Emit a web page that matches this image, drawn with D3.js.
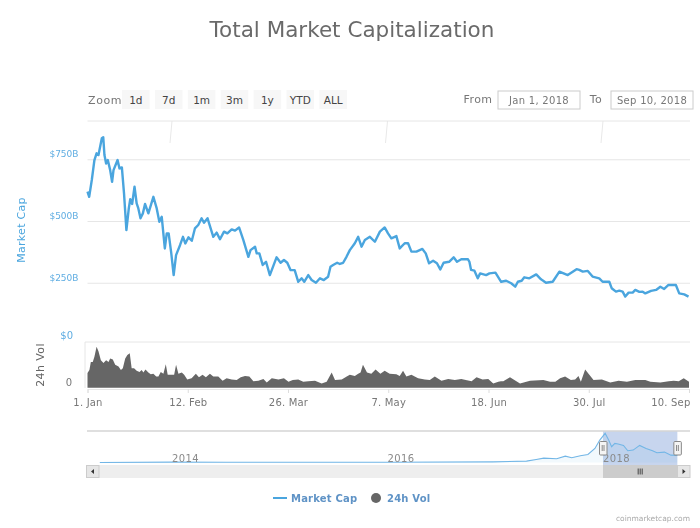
<!DOCTYPE html>
<html>
<head>
<meta charset="utf-8">
<script src="https://cdnjs.cloudflare.com/ajax/libs/d3/7.8.5/d3.min.js"></script>
<style>
  html, body { margin: 0; padding: 0; background: #fff; }
  svg { display: block; filter: blur(0.35px); }
  text { font-family: "DejaVu Sans", sans-serif; }
</style>
</head>
<body>
<svg id="chart"></svg>
<script>
// market cap: days since 1 Jan 2018 / $B
var capDays = [0,0.7,1.8,2.9,3.8,4.6,6,6.6,7.1,7.8,8.5,9.5,10.3,10.9,12.6,13.4,14.4,15.3,16.3,17.3,17.9,18.7,19.7,20.6,21.3,22.2,23.2,24.1,25.5,27.6,29,30.1,31.1,32.4,33.2,34,35.1,36.1,37.1,38.8,40,41,42.3,43.7,45,46.4,47.8,48.8,50.3,51.6,52.7,54.1,55.5,57.2,58.6,60.4,61.8,63.5,65.3,67.4,68.3,70.2,70.9,72,73.4,74.8,76.4,79.2,80.9,82.3,83.7,85.1,86.8,88.3,89.7,90.8,92.5,93.9,95.7,97.4,99,100.8,101.8,102.9,104.6,105.7,107.1,108.5,109.9,112,113.4,114.8,116.2,118.3,120.4,122.5,124.5,125.9,127.3,129.4,130.8,132.9,134.3,135.7,137.8,140.3,141.7,143.1,144.8,146.4,147.8,149.2,151.5,153.4,154.8,156.6,159.4,160,160.7,162.1,163.5,164.5,167,168.4,170.9,173.3,175.4,177.5,179.2,180.3,181.9,183,185.1,188,190,192.1,194.9,197.7,201.2,204.9,206,207.5,209.6,211.6,214.4,215.8,218.6,219.6,221.4,222.8,224.2,225.3,226.7,228.4,229.5,231.2,232.6,233.7,236.1,238.2,240,241.6,243.4,246.5,247.9,250,251.8];
var capValues = [619,598,666,747,774,767,835,839,767,733,747,706,659,706,747,713,717,612,463,551,588,569,639,571,551,511,531,569,531,598,551,497,517,389,450,450,369,281,362,403,436,409,434,420,470,484,511,493,511,470,436,453,426,457,450,466,461,474,423,355,382,396,369,369,322,335,281,353,331,342,331,301,301,254,268,254,281,261,250,268,261,274,315,322,331,326,331,355,382,410,436,396,423,436,416,457,474,450,430,439,389,410,410,376,376,387,369,329,339,329,304,331,335,353,335,345,345,335,302,299,268,288,281,288,291,254,258,248,234,254,258,272,268,284,264,250,254,295,281,305,302,295,298,275,268,254,254,228,214,218,214,194,210,210,221,213,214,207,217,221,234,225,241,241,207,203,194];

// 24h volume: days since 1 Jan 2018 / $B
var volDays = [0,0.8,1.4,2.2,2.9,3.8,4.6,5.6,6.7,7.8,8.8,9.5,10.6,11.6,13,14,14.8,15.8,16.7,17.7,18.5,19.5,20.6,21.8,22.7,23.4,24.3,25.5,26.5,27.6,28.8,29.7,30.7,31.8,32.8,33.6,35.3,36.3,37.1,38.1,39.5,40.5,41.8,43.6,45.4,46.7,48.2,49.6,51.3,52.7,54.8,56.6,58.3,60.4,62.5,64.2,66,67.8,69.5,71.6,73.7,75.1,77.2,80,82.3,84.2,86,88.3,90.4,92.5,95.3,98.1,100.2,102.3,103.7,106.5,108.6,109.9,112,113.4,114.4,115.4,117.1,118.9,120.7,122.7,124.5,126.6,129.4,130.8,132.2,133.6,135.7,138.5,141.3,143.4,145.5,148.3,151.1,153.9,156.6,158.5,160.9,163,165.5,167.9,170,172.1,173.2,174.2,177,181.2,185.4,191,193.8,196,198,200.1,202.5,204.3,205.7,206.7,208.5,212,215.5,219,222.5,226,229.5,233.7,235.8,240,243.5,245.6,247.7,249.8,252];
var volValues = [25,30,44,44,53,70,62,47,42,47,44,50,48,39,36,30,33,50,56,59,33,33,29,27,30,26,31,26,23,24,19,19,27,24,40,22,22,22,39,24,26,22,14,16,24,18,22,18,24,19,19,12,16,14,13,18,20,19,11,12,15,9,16,14,16,10,13,14,10,11,12,7,10,26,13,14,19,22,20,24,26,39,26,24,31,24,29,24,23,20,29,19,22,16,14,13,19,12,15,13,15,13,11,18,14,15,7,10,11,11,18,7,12,13,10,10,16,19,13,14,20,10,31,13,14,9,12,10,13,13,10,9,11,12,11,16,10,9,9];

// navigator line: year / $B
var navYears = [2013.33,2014,2014.5,2015,2016,2016.98,2017.29,2017.38,2017.45,2017.57,2017.65,2017.71,2017.79,2017.86,2017.925,2017.97,2018.02,2018.05,2018.08,2018.11,2018.14,2018.19,2018.23,2018.28,2018.34,2018.4,2018.46,2018.5,2018.57,2018.63,2018.69];
var navValues = [2,10,8,5,7,17,38,85,122,104,179,132,189,226,396,632,820,650,443,537,519,481,330,349,481,396,330,273,292,207,200];

var capTicks = [250,500,750];
var capTickLabels = ["$250B","$500B","$750B"];
var dayTicks = [0,42,84,126,168,210,252];
var dayTickLabels = ["1. Jan","12. Feb","26. Mar","7. May","18. Jun","30. Jul","10. Sep"];
var navTicks = [2014,2016,2018];
var zoomLabels = ["1d","7d","1m","3m","1y","YTD","ALL"];
var legendLabels = ["Market Cap","24h Vol"];

var capColor = "#4aa5de", gridColor = "#e6e6e6", labelBlue = "#5fade2", grey = "#666";
var width = 700, height = 528;
var left = 87.5, right = 690;

var svg = d3.select("#chart").attr("width", width).attr("height", height);

svg.append("text").attr("x", 352).attr("y", 37).attr("text-anchor", "middle")
    .attr("font-size", 21.5).attr("fill", "#6a6a6a").text("Total Market Capitalization");

// scales
var x = d3.scaleLinear().domain([0, 252]).range([left, right - 1]);
var yCap = d3.scaleLinear().domain([0, 905]).range([344.5, 121]);
var yVol = d3.scaleLinear().domain([0, 78]).range([387.7, 342]);
var xNav = d3.scaleLinear().domain([2014, 2018]).range([172, 603]);
var yNav = d3.scaleLinear().domain([0, 830]).range([462.5, 433]);

// range selector
var btn = d3.scaleBand().domain(zoomLabels).range([122, 347]).paddingInner(0.16).paddingOuter(0);
svg.append("text").attr("x", 88).attr("y", 104).attr("font-size", 11).attr("letter-spacing", 0.6)
    .attr("fill", "#777").text("Zoom");
var btns = svg.selectAll("g.btn").data(zoomLabels).enter().append("g").attr("class", "btn")
    .attr("transform", function(d) { return "translate(" + btn(d) + ",90)"; });
btns.append("rect").attr("width", btn.bandwidth()).attr("height", 19).attr("fill", "#f7f7f7");
btns.append("text").attr("x", btn.bandwidth() / 2).attr("y", 13.5).attr("text-anchor", "middle")
    .attr("font-size", 10.5).attr("fill", "#444").text(function(d) { return d; });

svg.append("text").attr("x", 478).attr("y", 103).attr("text-anchor", "middle")
    .attr("font-size", 11).attr("letter-spacing", 0.4).attr("fill", "#777").text("From");
svg.append("text").attr("x", 596).attr("y", 103).attr("text-anchor", "middle")
    .attr("font-size", 11).attr("letter-spacing", 0.4).attr("fill", "#777").text("To");
[[498, "Jan 1, 2018"], [611, "Sep 10, 2018"]].forEach(function(b) {
  svg.append("rect").attr("x", b[0]).attr("y", 91).attr("width", 82).attr("height", 18)
      .attr("fill", "#fff").attr("stroke", "#ccc");
  svg.append("text").attr("x", b[0] + 41).attr("y", 103.5).attr("text-anchor", "middle")
      .attr("font-size", 10).attr("letter-spacing", 0.3).attr("fill", "#777").text(b[1]);
});

// faint year lines at the top of the plot
svg.selectAll("line.year").data(navTicks).enter().append("line").attr("class", "year")
    .attr("x1", function(d) { return xNav(d); }).attr("x2", function(d) { return xNav(d) - 2; })
    .attr("y1", 121).attr("y2", 143).attr("stroke", "#e8e8e8");

// cap grid + labels
var capAxis = svg.append("g").attr("transform", "translate(" + left + ",0)")
    .call(d3.axisLeft(yCap).tickValues(capTicks).tickSize(-(right - left))
      .tickFormat(function(d, i) { return capTickLabels[i]; }));
capAxis.select(".domain").remove();
capAxis.selectAll("line").attr("stroke", gridColor);
capAxis.selectAll("text").attr("x", -9).attr("dy", -2.5).attr("font-size", 9).attr("fill", labelBlue)
    .style("font-family", '"DejaVu Sans", sans-serif');
svg.append("line").attr("x1", left).attr("x2", right).attr("y1", 121).attr("y2", 121).attr("stroke", gridColor);

svg.append("text").attr("transform", "translate(25,230) rotate(-90)").attr("text-anchor", "middle")
    .attr("font-size", 11).attr("letter-spacing", 0.3).attr("fill", "#4aa5de").text("Market Cap");

// cap line
var capLine = d3.line().x(function(d) { return x(d); }).y(function(d, i) { return yCap(capValues[i]); });
svg.append("path").datum(capDays).attr("fill", "none").attr("stroke", capColor)
    .attr("stroke-width", 2.4).attr("stroke-linejoin", "round").attr("d", capLine);

// volume panel
svg.append("line").attr("x1", 85).attr("x2", right).attr("y1", 342).attr("y2", 342).attr("stroke", gridColor);
svg.append("line").attr("x1", 85).attr("x2", 85).attr("y1", 342).attr("y2", 388).attr("stroke", gridColor);
var volArea = d3.area().x(function(d) { return x(d); }).y0(yVol(0)).y1(function(d, i) { return yVol(volValues[i]); });
svg.append("path").datum(volDays).attr("fill", grey).attr("d", volArea);

svg.append("text").attr("x", 73).attr("y", 339).attr("text-anchor", "end")
    .attr("font-size", 10).attr("fill", labelBlue).text("$0");
svg.append("text").attr("x", 72).attr("y", 386).attr("text-anchor", "end")
    .attr("font-size", 10).attr("fill", "#777").text("0");
svg.append("text").attr("transform", "translate(44,365) rotate(-90)").attr("text-anchor", "middle")
    .attr("font-size", 11).attr("letter-spacing", 0.4).attr("fill", "#666").text("24h Vol");

// time axis
var timeAxis = svg.append("g").attr("transform", "translate(0,389)")
    .call(d3.axisBottom(x).tickValues(dayTicks).tickSize(4).tickPadding(6)
      .tickFormat(function(d, i) { return dayTickLabels[i]; }));
timeAxis.select(".domain").attr("stroke", gridColor);
timeAxis.selectAll("line").attr("stroke", "#ddd");
timeAxis.selectAll("text").attr("font-size", 10).attr("fill", "#777").attr("letter-spacing", 0.2)
    .style("font-family", '"DejaVu Sans", sans-serif');
timeAxis.selectAll(".tick:last-of-type text").attr("text-anchor", "end").attr("dx", 1);

// navigator
var selStart = xNav(2018), selEnd = xNav(2018.69);
svg.append("rect").attr("x", selStart).attr("y", 431).attr("width", selEnd - selStart).attr("height", 34).attr("fill", "#c7d5ee");
svg.append("line").attr("x1", 87).attr("x2", right).attr("y1", 431).attr("y2", 431).attr("stroke", "#d5d5d5").attr("stroke-width", 1.5);
var navArea = d3.area().x(function(d) { return xNav(d); }).y0(yNav(0)).y1(function(d, i) { return yNav(navValues[i]); });
var navLine = d3.line().x(function(d) { return xNav(d); }).y(function(d, i) { return yNav(navValues[i]); });
svg.append("path").datum(navYears).attr("fill", "#4aa5de").attr("fill-opacity", 0.07).attr("d", navArea);
svg.append("path").datum(navYears).attr("fill", "none").attr("stroke", "#72b6e6").attr("stroke-width", 1.1).attr("d", navLine);

var navAxis = svg.append("g").attr("transform", "translate(0,463)")
    .call(d3.axisBottom(xNav).tickValues(navTicks).tickSize(0).tickFormat(d3.format("d")));
navAxis.select(".domain").remove();
navAxis.selectAll("text").attr("x", 13).attr("y", -1).attr("dy", 0).attr("font-size", 10)
    .attr("letter-spacing", 0.4).attr("fill", "#8a8a8a").style("font-family", '"DejaVu Sans", sans-serif');

// scrollbar
svg.append("rect").attr("x", 86).attr("y", 465).attr("width", 604).attr("height", 13).attr("fill", "#eee");
svg.append("rect").attr("x", selStart).attr("y", 465).attr("width", selEnd - selStart).attr("height", 13).attr("fill", "#ccc");
[86.5, 677.5].forEach(function(bx, i) {
  svg.append("rect").attr("x", bx).attr("y", 465.5).attr("width", 12.5).attr("height", 12)
      .attr("fill", "#e6e6e6").attr("stroke", "#ccc");
  svg.append("path").attr("fill", "#333")
      .attr("d", i == 0 ? "M" + (bx + 4.5) + ",471.5l3,-2.5v5z" : "M" + (bx + 8) + ",471.5l-3,-2.5v5z");
});
[-2, 0, 2].forEach(function(dx) {
  var gx = (selStart + selEnd) / 2 + dx;
  svg.append("line").attr("x1", gx).attr("x2", gx).attr("y1", 468.5).attr("y2", 474.5).attr("stroke", "#444");
});

// navigator handles
[selStart, selEnd].forEach(function(hx) {
  svg.append("rect").attr("x", hx - 3.5).attr("y", 441.5).attr("width", 7.5).attr("height", 13.5).attr("rx", 1)
      .attr("fill", "#f4f4f4").attr("stroke", "#888");
  svg.append("line").attr("x1", hx - 0.8).attr("x2", hx - 0.8).attr("y1", 445).attr("y2", 451).attr("stroke", "#888");
  svg.append("line").attr("x1", hx + 1).attr("x2", hx + 1).attr("y1", 445).attr("y2", 451).attr("stroke", "#888");
});

// legend
svg.append("line").attr("x1", 273).attr("x2", 287).attr("y1", 498).attr("y2", 498).attr("stroke", capColor).attr("stroke-width", 2);
svg.append("text").attr("x", 291).attr("y", 502).attr("font-size", 10).attr("font-weight", "bold")
    .attr("letter-spacing", 0.2).attr("fill", "#5f93c6").text(legendLabels[0]);
svg.append("circle").attr("cx", 376).attr("cy", 498).attr("r", 5).attr("fill", grey);
svg.append("text").attr("x", 387).attr("y", 502).attr("font-size", 10).attr("font-weight", "bold")
    .attr("letter-spacing", 0.2).attr("fill", "#5f93c6").text(legendLabels[1]);

svg.append("text").attr("x", 690).attr("y", 521).attr("text-anchor", "end")
    .attr("font-size", 7.5).attr("fill", "#aaa").text("coinmarketcap.com");
</script>
</body>
</html>
